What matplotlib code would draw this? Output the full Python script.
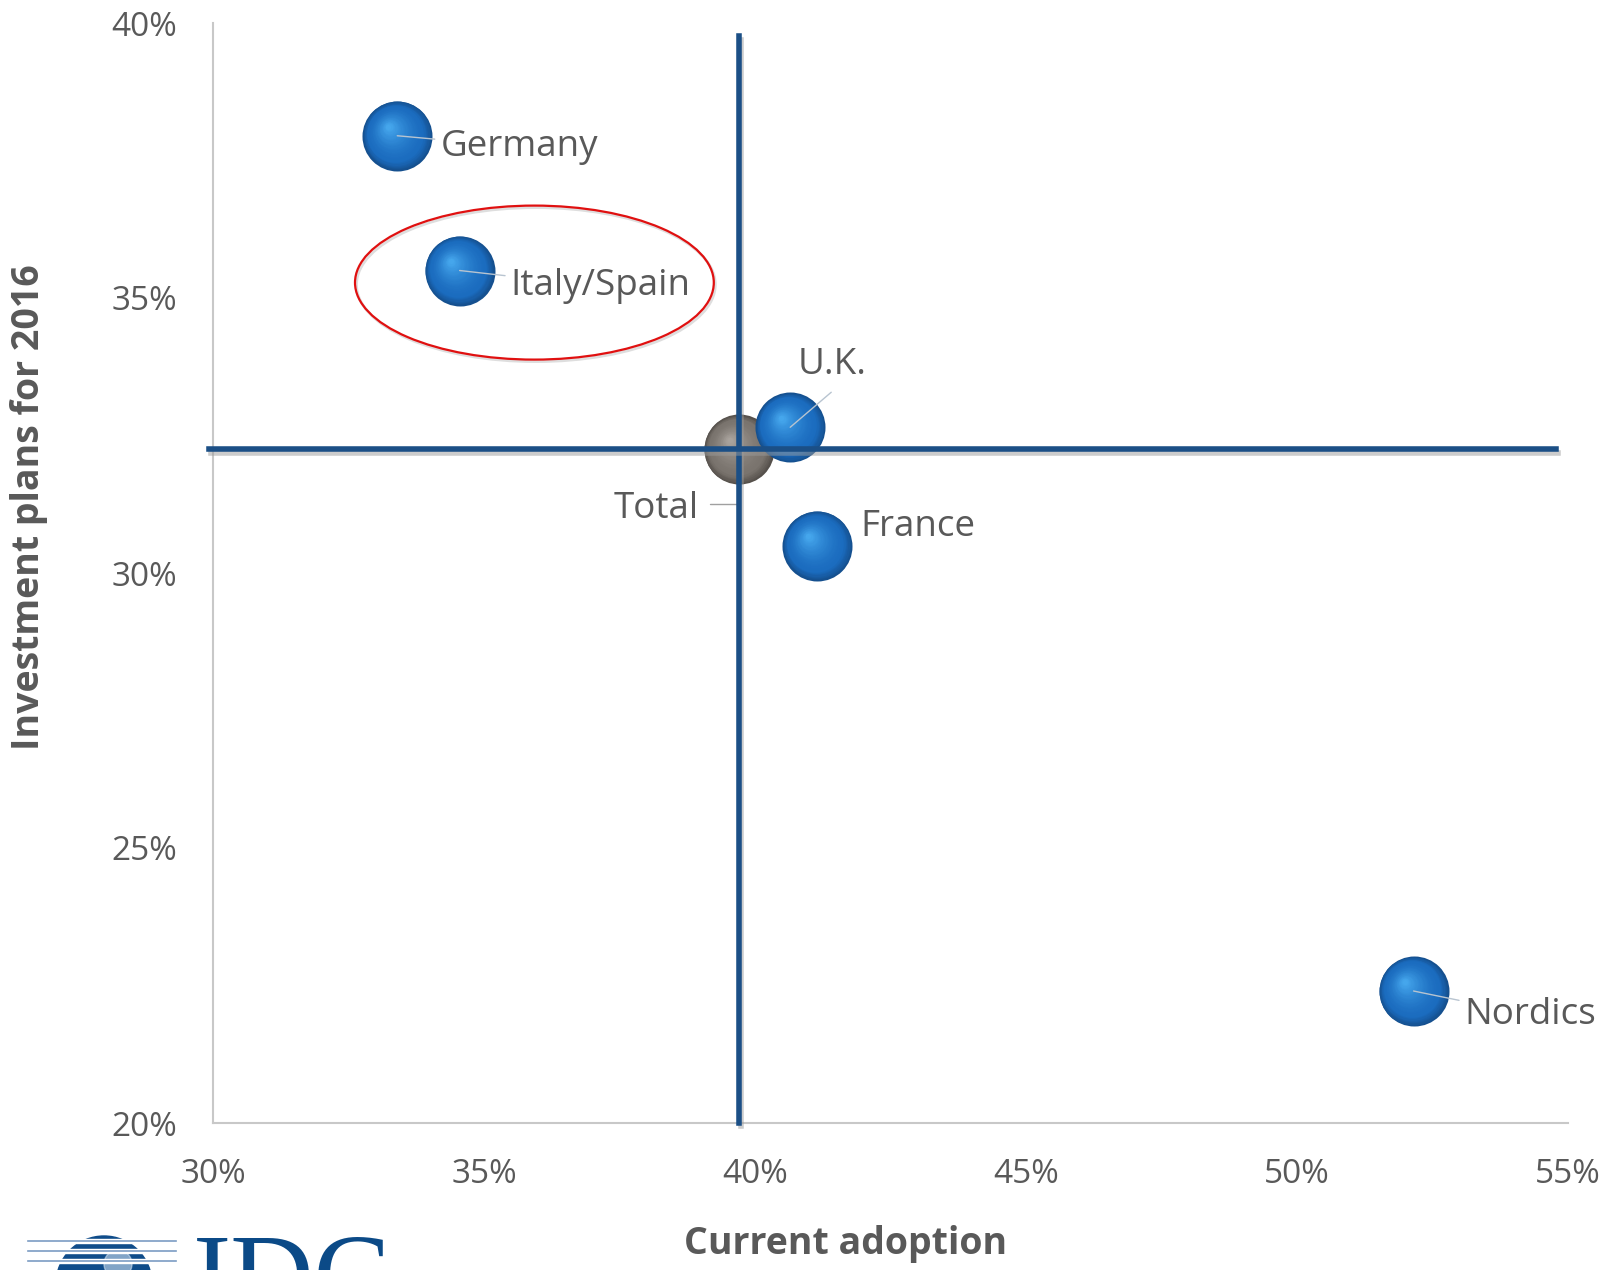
import numpy as np
import matplotlib.pyplot as plt
import matplotlib.patheffects as pe
from matplotlib.patches import Ellipse, Circle, Rectangle
from matplotlib.transforms import ScaledTranslation
from matplotlib.ticker import FuncFormatter
from matplotlib.colors import to_rgb

plt.rcParams['font.family'] = ['Open Sans', 'DejaVu Sans']

# data (percent)
countries = ['Germany', 'Italy/Spain', 'U.K.', 'France', 'Nordics']
adoption = [33.4, 34.55, 40.65, 41.15, 52.15]
investment = [37.95, 35.5, 32.65, 30.5, 22.4]
total_adoption = 39.7
total_investment = 32.25

x_ticks = [30, 35, 40, 45, 50, 55]
y_ticks = [20, 25, 30, 35, 40]

TXT = '#595959'
LINE = '#1b4f86'

fig = plt.figure(figsize=(16.09, 12.7), dpi=100)
ax = fig.add_axes([213 / 1609, 147 / 1270, 1355 / 1609, 1100 / 1270])
ax.set_xlim(30, 55)
ax.set_ylim(20, 40)
ax.set_xticks(x_ticks)
ax.set_yticks(y_ticks)
pct = FuncFormatter(lambda v, p: f'{v:.0f}%')
ax.xaxis.set_major_formatter(pct)
ax.yaxis.set_major_formatter(pct)
ax.tick_params(length=0, labelsize=24, colors=TXT)
ax.tick_params(axis='x', pad=25)
ax.tick_params(axis='y', pad=26)
for s in ['top', 'right']:
    ax.spines[s].set_visible(False)
for s in ['left', 'bottom']:
    ax.spines[s].set_color('#c8c8c8')
    ax.spines[s].set_linewidth(1.5)

ax.set_xlabel('Current adoption', fontsize=27, fontweight='bold', color=TXT)
ax.set_ylabel('Investment plans for 2016', fontsize=27, fontweight='bold', color=TXT)
ax.xaxis.set_label_coords(0.467, -0.093)
ax.yaxis.set_label_coords(-0.122, 0.56)


def mix(c1, c2, t):
    a, b = np.array(to_rgb(c1)), np.array(to_rgb(c2))
    return tuple(a + (b - a) * t)


def spheres(xs, ys, dark, mid, light, z, r_px=35):
    n = 30
    for i in range(n):
        t = i / (n - 1)
        rr = r_px * (1 - 0.92 * t)
        off = (r_px - rr) * 0.4
        tr = ax.transData + ScaledTranslation(-off * 0.7 / 100, off * 0.7 / 100,
                                              fig.dpi_scale_trans)
        if t < 0.2:
            col = mix(dark, mid, t / 0.2)
        else:
            col = mix(mid, light, ((t - 0.2) / 0.8) ** 1.6)
        ax.scatter(xs, ys, s=(2 * rr * 0.72) ** 2, color=col, linewidths=0,
                   transform=tr, zorder=z + i * 0.001)


# quadrant lines
shadow = [pe.SimpleLineShadow(offset=(1.5, -2.5), shadow_color='#9a9a9a', alpha=0.5),
          pe.Normal()]
ax.axvline(total_adoption, ymin=0, ymax=0.988, color=LINE, lw=4, zorder=5,
           path_effects=shadow, clip_on=False)
ax.axhline(total_investment, xmin=-0.003, xmax=0.991, color=LINE, lw=4, zorder=5,
           path_effects=shadow, clip_on=False)

spheres([total_adoption], [total_investment], '#55504b', '#7a746e', '#a9a39d', 3)
spheres(adoption, investment, '#15508f', '#1b6cbf', '#45a6ec', 4)

# labels
offsets = {
    'Germany': (43, -11, True),
    'Italy/Spain': (51, -16, True),
    'U.K.': (7, 62, False),
    'France': (43, 18, False),
    'Nordics': (51, -24, True),
}
for name, x, y in zip(countries, adoption, investment):
    dx, dy, leader = offsets[name]
    ax.annotate(name, (x, y), xytext=(dx, dy), textcoords='offset pixels',
                ha='left', va='center', fontsize=26.5, color=TXT, zorder=7,
                arrowprops=dict(arrowstyle='-', color='#b8c4d0', lw=1,
                                shrinkA=2, shrinkB=0) if leader else None)

# U.K. leader line
uk = countries.index('U.K.')
ax.annotate('', (adoption[uk], investment[uk]), xytext=(41, 35),
            textcoords='offset pixels',
            arrowprops=dict(arrowstyle='-', color='#b8c4d0', lw=1, shrinkA=0, shrinkB=0),
            zorder=7)

ax.annotate('Total', (total_adoption, total_investment), xytext=(-40, -60),
            textcoords='offset pixels', ha='right', va='center', fontsize=26.5,
            color=TXT, zorder=7)
ax.annotate('', (total_adoption, total_investment), xytext=(-29, -55),
            textcoords='offset pixels',
            arrowprops=dict(arrowstyle='-', color='#a0a0a0', lw=1, shrinkA=0, shrinkB=0,
                            connectionstyle='angle,angleA=0,angleB=90,rad=0'),
            zorder=4.5)

# red ellipse around Italy/Spain
it = countries.index('Italy/Spain')
ecenter = (adoption[it] + 1.38, investment[it] - 0.22)
shadow_tr = ax.transData + ScaledTranslation(1.5 / 100, -2 / 100, fig.dpi_scale_trans)
ax.add_patch(Ellipse(ecenter, 6.62, 2.8, fill=False, edgecolor='#c8c8c8', lw=2,
                     alpha=0.6, zorder=5.9, transform=shadow_tr))
ax.add_patch(Ellipse(ecenter, 6.62, 2.8, fill=False, edgecolor='#e01010', lw=1.6,
                     zorder=6))

# IDC logo (cut at bottom edge)
lax = fig.add_axes([0, 0, 420 / 1609, 40 / 1270])
lax.set_xlim(0, 420)
lax.set_ylim(40, 0)
lax.axis('off')
lax.add_patch(Circle((104, 54), 48, color='#0f4c8a'))
lax.add_patch(Circle((118, 34), 14, color='#cfe0f0', alpha=0.6))
for yy in [11, 21, 31]:
    lax.add_patch(Rectangle((50, yy - 1.6), 110, 3.2, color='white', zorder=3))
    lax.plot([28, 176], [yy, yy], color='#7b9cc4', lw=1.2, zorder=4)
lax.text(193, 83, 'IDC', family='Liberation Serif', fontsize=83, color='#0b4a87',
         ha='left', va='baseline')

fig.savefig('out.png', dpi=100)
